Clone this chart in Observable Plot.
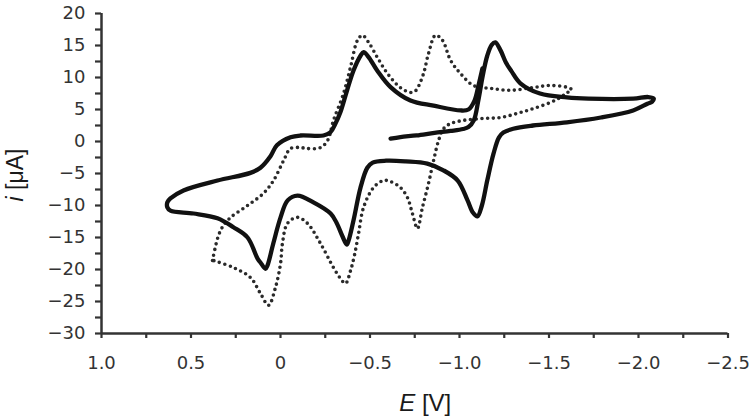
<!DOCTYPE html>
<html>
<head>
<meta charset="utf-8">
<script src="https://cdn.jsdelivr.net/npm/d3@7"></script>
<script src="https://cdn.jsdelivr.net/npm/@observablehq/plot@0.6"></script>
<style>
  html, body { margin: 0; padding: 0; background: #fff; }
  #chart { width: 750px; height: 419px; }
</style>
</head>
<body>
<div id="chart"></div>
<script>
// Solid voltammogram (E in V, i in µA), in scan order
const solidE = [-0.615,-0.67,-0.76,-0.86,-0.95,-1.02,-1.05,-1.08,-1.105,-1.13,-1.155,-1.18,-1.20,-1.23,-1.26,-1.29,-1.34,-1.45,-1.60,-1.72,-1.97,-2.055,-2.085,-2.075,-2.05,-1.97,-1.79,-1.60,-1.41,-1.30,-1.245,-1.22,-1.19,-1.155,-1.125,-1.10,-1.075,-1.045,-0.99,-0.91,-0.82,-0.70,-0.59,-0.515,-0.485,-0.447,-0.408,-0.38,-0.37,-0.346,-0.313,-0.28,-0.184,-0.095,-0.04,0.0,0.04,0.073,0.084,0.112,0.128,0.184,0.263,0.352,0.486,0.615,0.632,0.632,0.615,0.542,0.352,0.168,0.112,0.056,0.02,-0.056,-0.112,-0.24,-0.279,-0.307,-0.335,-0.372,-0.408,-0.447,-0.464,-0.492,-0.54,-0.615,-0.726,-0.855,-1.006,-1.05,-1.084,-1.106,-1.128];
const solidI = [0.45,0.7,0.95,1.35,1.65,1.95,2.25,3.3,6.4,10.3,13.4,15.1,15.5,14.2,12.3,11.0,9.1,7.5,6.9,6.7,6.7,6.95,6.7,6.2,5.9,4.85,3.75,3.0,2.5,2.0,1.4,0.6,-1.9,-6.1,-10.0,-11.7,-11.1,-9.2,-6.1,-4.5,-3.45,-3.1,-3.0,-3.3,-4.1,-7.2,-12.3,-15.5,-16.1,-14.8,-12.7,-11.25,-9.5,-8.45,-9.2,-11.9,-15.9,-19.4,-19.9,-18.9,-18.3,-15.0,-13.4,-12.0,-11.25,-10.8,-10.3,-9.5,-8.9,-7.65,-6.1,-4.9,-4.1,-2.3,-0.6,0.65,0.94,0.94,1.45,2.8,4.6,8.0,11.1,13.4,13.95,13.2,11.1,8.5,6.4,5.6,4.85,5.0,6.4,8.75,11.4];

// Dotted voltammogram (E in V, i in µA), in scan order
const dotE = [0.38,0.35,0.325,0.28,0.184,0.095,0.039,-0.017,-0.056,-0.112,-0.15,-0.223,-0.263,-0.296,-0.352,-0.391,-0.43,-0.458,-0.492,-0.542,-0.598,-0.67,-0.726,-0.749,-0.765,-0.799,-0.827,-0.866,-0.905,-0.95,-1.006,-1.078,-1.173,-1.285,-1.413,-1.508,-1.603,-1.626,-1.603,-1.564,-1.508,-1.413,-1.324,-1.229,-1.134,-1.022,-0.95,-0.911,-0.883,-0.855,-0.827,-0.793,-0.765,-0.737,-0.709,-0.67,-0.615,-0.575,-0.52,-0.464,-0.436,-0.413,-0.391,-0.363,-0.335,-0.296,-0.223,-0.151,-0.095,-0.039,-0.011,0.0,0.028,0.067,0.112,0.168,0.263,0.374];
const dotI = [-18.6,-15.0,-13.4,-11.9,-10.0,-8.1,-6.1,-3.0,-1.1,-0.95,-1.1,-0.95,0.15,3.3,7.5,11.6,15.8,16.6,15.5,13.1,10.6,8.4,7.65,7.8,8.3,10.6,13.75,16.6,15.8,12.7,10.6,8.75,8.3,8.0,8.45,8.75,8.45,8.1,7.65,6.9,6.1,5.15,4.4,3.75,3.6,3.3,2.8,2.0,0.15,-3.0,-6.55,-10.3,-13.6,-11.25,-8.75,-7.2,-6.25,-6.1,-7.2,-10.3,-14.4,-17.8,-20.2,-22.2,-21.4,-19.7,-15.9,-12.8,-11.85,-12.8,-15.9,-19.1,-22.8,-25.6,-23.75,-21.25,-19.7,-18.6];

// Axis ticks and labels
const xTicks = [1.0,0.75,0.5,0.25,0,-0.25,-0.5,-0.75,-1.0,-1.25,-1.5,-1.75,-2.0,-2.25,-2.5];
const xLabelValues = [1.0,0.5,0,-0.5,-1.0,-1.5,-2.0,-2.5];
const xLabelTexts = ["1.0","0.5","0","\u22120.5","\u22121.0","\u22121.5","\u22122.0","\u22122.5"];
const yTicks = [20,17.5,15,12.5,10,7.5,5,2.5,0,-2.5,-5,-7.5,-10,-12.5,-15,-17.5,-20,-22.5,-25,-27.5,-30];
const yLabelValues = [20,15,10,5,0,-5,-10,-15,-20,-25,-30];
const yLabelTexts = ["20","15","10","5","0","\u22125","\u221210","\u221215","\u221220","\u221225","\u221230"];

const solid = solidE.map((e, k) => ({E: e, i: solidI[k]}));
const dotted = dotE.map((e, k) => ({E: e, i: dotI[k]}));

const W = 750, H = 419, mL = 101, mR = 22.5, mT = 13, mB = 86;
const xFmt = d => { const k = xLabelValues.findIndex(v => Math.abs(v - d) < 1e-9); return k >= 0 ? xLabelTexts[k] : ""; };
const yFmt = d => { const k = yLabelValues.findIndex(v => Math.abs(v - d) < 1e-9); return k >= 0 ? yLabelTexts[k] : ""; };

const chart = Plot.plot({
  width: W, height: H,
  marginLeft: mL, marginRight: mR, marginTop: mT, marginBottom: mB,
  style: {fontFamily: "'DejaVu Sans', sans-serif", fontSize: "18px", background: "#fff", color: "#1a1a1a"},
  x: {domain: [1.0, -2.5]},
  y: {domain: [-30, 20]},
  marks: [
    Plot.axisX({ticks: xTicks, tickFormat: xFmt, tickSize: 5, tickPadding: 18, strokeWidth: 2.2, color: "#333", label: null}),
    Plot.axisY({ticks: yTicks, tickFormat: yFmt, tickSize: 6, tickPadding: 10, strokeWidth: 2.2, color: "#333", label: null}),
    Plot.ruleX([1.0], {stroke: "#333", strokeWidth: 2.5}),
    Plot.ruleY([-30], {stroke: "#333", strokeWidth: 2.5}),
    Plot.line(dotted, {x: "E", y: "i", stroke: "#2a2a2a", strokeWidth: 3.6, strokeDasharray: "0,5.7", strokeLinecap: "round", curve: "catmull-rom"}),
    Plot.line(solid, {x: "E", y: "i", stroke: "#111", strokeWidth: 4.3, strokeLinejoin: "round", strokeLinecap: "round", curve: "catmull-rom"})
  ]
});

const svg = d3.select(chart);
const xt = svg.append("text")
  .attr("x", mL + (W - mL - mR) / 2 + 11)
  .attr("y", H - 8)
  .attr("text-anchor", "middle")
  .style("font-family", "'Liberation Sans', Arial, sans-serif")
  .style("font-size", "24px")
  .attr("fill", "#1a1a1a");
xt.append("tspan").style("font-style", "italic").text("E");
xt.append("tspan").text(" [V]");

const yt = svg.append("text")
  .attr("transform", `translate(23,${mT + (H - mT - mB) / 2 + 2}) rotate(-90)`)
  .attr("text-anchor", "middle")
  .style("font-family", "'Liberation Sans', Arial, sans-serif")
  .style("font-size", "23px")
  .attr("fill", "#1a1a1a");
yt.append("tspan").style("font-style", "italic").text("i");
yt.append("tspan").text(" [\u03bcA]");

document.getElementById("chart").appendChild(chart);
</script>
</body>
</html>
